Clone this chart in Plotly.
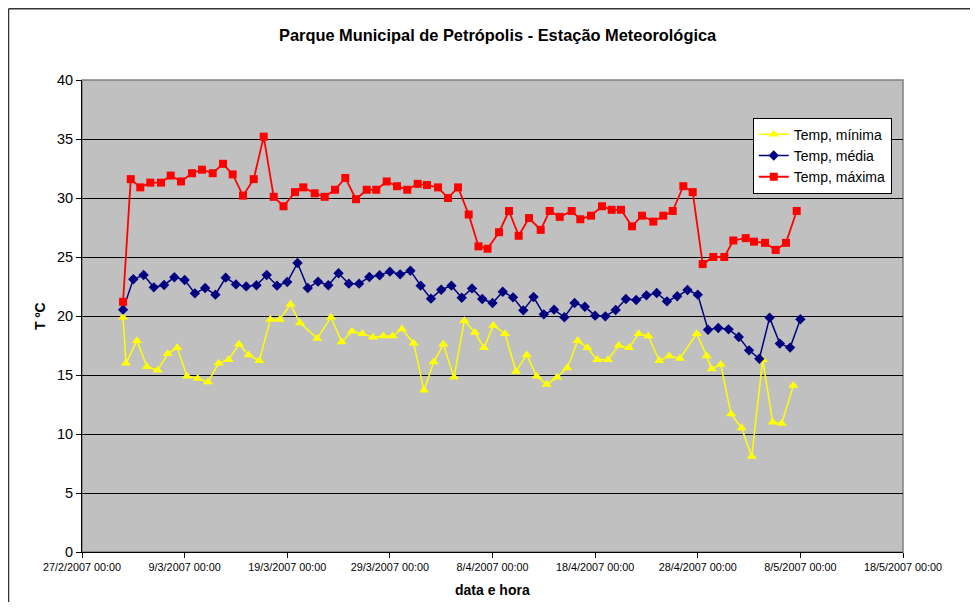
import pandas as pd
import plotly.graph_objects as go

# Temperatura mínima (hora do registro e valor)
datas_min = ["2007-03-03 00:00", "2007-03-03 06:55", "2007-03-04 08:35", "2007-03-05 08:00", "2007-03-06 09:00",
             "2007-03-07 08:25", "2007-03-08 06:50", "2007-03-09 05:35", "2007-03-10 06:35", "2007-03-11 06:40",
             "2007-03-12 07:40", "2007-03-13 07:05", "2007-03-14 07:10", "2007-03-15 05:50", "2007-03-16 06:35",
             "2007-03-17 08:20", "2007-03-18 06:35", "2007-03-19 07:35", "2007-03-20 05:50", "2007-03-21 22:15",
             "2007-03-23 06:20", "2007-03-24 07:20", "2007-03-25 07:25", "2007-03-26 07:30", "2007-03-27 08:30",
             "2007-03-28 08:35", "2007-03-29 06:35", "2007-03-30 04:20", "2007-03-31 07:40", "2007-04-01 07:50",
             "2007-04-02 06:30", "2007-04-03 04:55", "2007-04-04 06:00", "2007-04-05 06:05", "2007-04-06 07:05",
             "2007-04-07 04:10", "2007-04-08 01:50", "2007-04-09 05:15", "2007-04-10 07:00", "2007-04-11 08:00",
             "2007-04-12 07:20", "2007-04-13 06:45", "2007-04-14 06:50", "2007-04-15 06:55", "2007-04-16 07:15",
             "2007-04-17 05:45", "2007-04-18 05:05", "2007-04-19 06:05", "2007-04-20 07:10", "2007-04-21 07:15",
             "2007-04-22 05:55", "2007-04-23 04:20", "2007-04-24 06:05", "2007-04-25 05:30", "2007-04-26 06:30",
             "2007-04-27 21:35", "2007-04-28 20:55", "2007-04-29 08:35", "2007-04-30 05:40", "2007-05-01 05:45",
             "2007-05-02 06:45", "2007-05-03 06:10", "2007-05-04 07:55", "2007-05-05 07:15", "2007-05-06 04:20",
             "2007-05-07 07:30"]
temp_min = [19.9, 16.0, 17.9, 15.7, 15.4, 16.8, 17.3, 14.9, 14.7, 14.4,
            16.0, 16.3, 17.6, 16.7, 16.2, 19.7, 19.7, 21.0, 19.4, 18.1,
            19.9, 17.8, 18.7, 18.5, 18.2, 18.3, 18.3, 18.9, 17.7, 13.7,
            16.1, 17.6, 14.8, 19.6, 18.6, 17.3, 19.2, 18.5, 15.3, 16.7,
            14.9, 14.2, 14.8, 15.6, 17.9, 17.3, 16.3, 16.3, 17.5, 17.3,
            18.5, 18.3, 16.2, 16.6, 16.4, 18.5, 16.6, 15.5, 15.9, 11.7,
            10.5, 8.1, 16.3, 11.0, 10.9, 14.1]

# Temperatura média (diária, 00:00)
datas_med = pd.date_range("2007-03-03", "2007-05-08", freq="D")
temp_med = [20.54, 23.11, 23.47, 22.43, 22.63, 23.28, 23.05, 21.92, 22.37, 21.81,
            23.25, 22.68, 22.51, 22.60, 23.47, 22.57, 22.88, 24.49, 22.37, 22.91,
            22.60, 23.62, 22.74, 22.74, 23.31, 23.45, 23.76, 23.53, 23.84, 22.57,
            21.47, 22.23, 22.57, 21.55, 22.34, 21.44, 21.10, 22.06, 21.58, 20.48,
            21.61, 20.14, 20.54, 19.89, 21.10, 20.79, 20.03, 19.97, 20.51, 21.44,
            21.36, 21.75, 21.95, 21.24, 21.67, 22.20, 21.81, 18.84, 18.98, 18.87,
            18.22, 17.09, 16.38, 19.86, 17.66, 17.32, 19.72]

# Temperatura máxima (hora do registro e valor)
datas_max = ["2007-03-03 00:00", "2007-03-03 18:00", "2007-03-04 16:20", "2007-03-05 15:45", "2007-03-06 16:45",
             "2007-03-07 15:25", "2007-03-08 15:30", "2007-03-09 17:15", "2007-03-10 16:40", "2007-03-11 17:40",
             "2007-03-12 17:45", "2007-03-13 16:25", "2007-03-14 16:30", "2007-03-15 17:35", "2007-03-16 16:55",
             "2007-03-17 16:20", "2007-03-18 15:15", "2007-03-19 18:05", "2007-03-20 13:30", "2007-03-21 16:10",
             "2007-03-22 15:35", "2007-03-23 15:40", "2007-03-24 15:45", "2007-03-25 16:45", "2007-03-26 17:50",
             "2007-03-27 16:15", "2007-03-28 16:35", "2007-03-29 16:40", "2007-03-30 16:45", "2007-03-31 17:05",
             "2007-04-01 14:50", "2007-04-02 16:30", "2007-04-03 15:55", "2007-04-04 15:20", "2007-04-05 16:20",
             "2007-04-06 15:15", "2007-04-07 12:20", "2007-04-08 15:15", "2007-04-09 14:35", "2007-04-10 13:15",
             "2007-04-11 13:20", "2007-04-12 16:45", "2007-04-13 13:45", "2007-04-14 13:10", "2007-04-15 17:10",
             "2007-04-16 13:20", "2007-04-17 14:20", "2007-04-18 16:05", "2007-04-19 14:45", "2007-04-20 12:30",
             "2007-04-21 14:15", "2007-04-22 13:35", "2007-04-23 16:00", "2007-04-24 15:25", "2007-04-25 13:25",
             "2007-04-26 14:15", "2007-04-27 12:10", "2007-04-28 11:35", "2007-04-29 12:20", "2007-04-30 14:05",
             "2007-05-01 11:10", "2007-05-02 16:10", "2007-05-03 11:35", "2007-05-04 13:15", "2007-05-05 14:15",
             "2007-05-06 14:20", "2007-05-07 15:25"]
temp_max = [21.2, 31.6, 30.9, 31.3, 31.3, 31.9, 31.4, 32.1, 32.4, 32.1,
            32.9, 32.0, 30.2, 31.6, 35.2, 30.1, 29.3, 30.5, 30.9, 30.4,
            30.1, 30.7, 31.7, 29.9, 30.7, 30.7, 31.4, 31.0, 30.7, 31.2,
            31.1, 30.9, 30.0, 30.9, 28.6, 25.9, 25.7, 27.1, 28.9, 26.8,
            28.3, 27.3, 28.9, 28.4, 28.9, 28.2, 28.5, 29.3, 29.0, 29.0,
            27.6, 28.5, 28.0, 28.5, 28.9, 31.0, 30.5, 24.4, 25.0, 25.0,
            26.4, 26.6, 26.3, 26.2, 25.6, 26.2, 28.9]

fonte = "Liberation Sans, Arial, sans-serif"

fig = go.Figure()

fig.add_trace(go.Scatter(
    x=pd.to_datetime(datas_min), y=temp_min,
    mode="lines+markers",
    line=dict(color="#FFFF00", width=1.5),
    marker=dict(symbol="triangle-up", size=9, color="#FFFF00"),
    name="Temp, mínima"
))

fig.add_trace(go.Scatter(
    x=datas_med, y=temp_med,
    mode="lines+markers",
    line=dict(color="#000080", width=1.5),
    marker=dict(symbol="diamond", size=8, color="#000080"),
    name="Temp, média"
))

fig.add_trace(go.Scatter(
    x=pd.to_datetime(datas_max), y=temp_max,
    mode="lines+markers",
    line=dict(color="#FF0000", width=1.8),
    marker=dict(symbol="square", size=8, color="#FF0000"),
    name="Temp, máxima"
))

# a página tem 8px de margem no body: a figura é reduzida para caber na janela
fig.update_layout(
    width=962, height=594,
    margin=dict(l=74, r=67, t=72, b=50),
    paper_bgcolor="white",
    plot_bgcolor="#C0C0C0",
    font=dict(family=fonte, size=11, color="black"),
    showlegend=True,
    legend=dict(
        x=0.817, y=0.92, xanchor="left", yanchor="top",
        bgcolor="white", bordercolor="black", borderwidth=1,
        font=dict(size=14), tracegroupgap=0
    ),
    xaxis=dict(
        type="date",
        range=["2007-02-27", "2007-05-18"],
        tick0="2007-02-27", dtick=10 * 86400000,
        tickformat="%-d/%-m/%Y %H:%M",
        ticks="outside", ticklen=5, tickcolor="black",
        showline=True, linecolor="black", linewidth=1,
        showgrid=False, zeroline=False,
        tickfont=dict(size=10.8)
    ),
    yaxis=dict(
        range=[0, 40], dtick=5,
        ticks="outside", ticklen=5, tickcolor="black",
        showline=True, linecolor="black", linewidth=1,
        showgrid=True, gridcolor="black", gridwidth=1,
        zeroline=False,
        tickfont=dict(size=14.5)
    ),
    annotations=[
        dict(text="<b>Parque Municipal de Petrópolis - Estação Meteorológica</b>",
             xref="paper", yref="paper", x=0.507, y=1.0953,
             xanchor="center", yanchor="middle",
             showarrow=False, font=dict(size=16.4)),
        dict(text="<b>T ºC</b>", xref="paper", yref="paper", x=-0.0512, y=0.5,
             xanchor="center", yanchor="middle",
             textangle=-90, showarrow=False, font=dict(size=14)),
        dict(text="<b>data e hora</b>", xref="paper", yref="paper", x=0.4994, y=-0.0805,
             xanchor="center", yanchor="middle",
             showarrow=False, font=dict(size=14)),
    ],
    shapes=[
        # borda cinza da área de plotagem
        dict(type="rect", xref="paper", yref="paper", x0=0, x1=1, y0=0, y1=1,
             line=dict(color="#808080", width=1.5), layer="below"),
        # borda externa do gráfico (só esquerda e topo ficam visíveis)
        dict(type="line", xref="paper", yref="paper", x0=-0.0895, x1=-0.0895, y0=-0.3, y1=1.151,
             line=dict(color="#333333", width=1.5)),
        dict(type="line", xref="paper", yref="paper", x0=-0.0895, x1=1.2, y0=1.151, y1=1.151,
             line=dict(color="#333333", width=1.5)),
    ]
)

fig.write_html("out.html")
